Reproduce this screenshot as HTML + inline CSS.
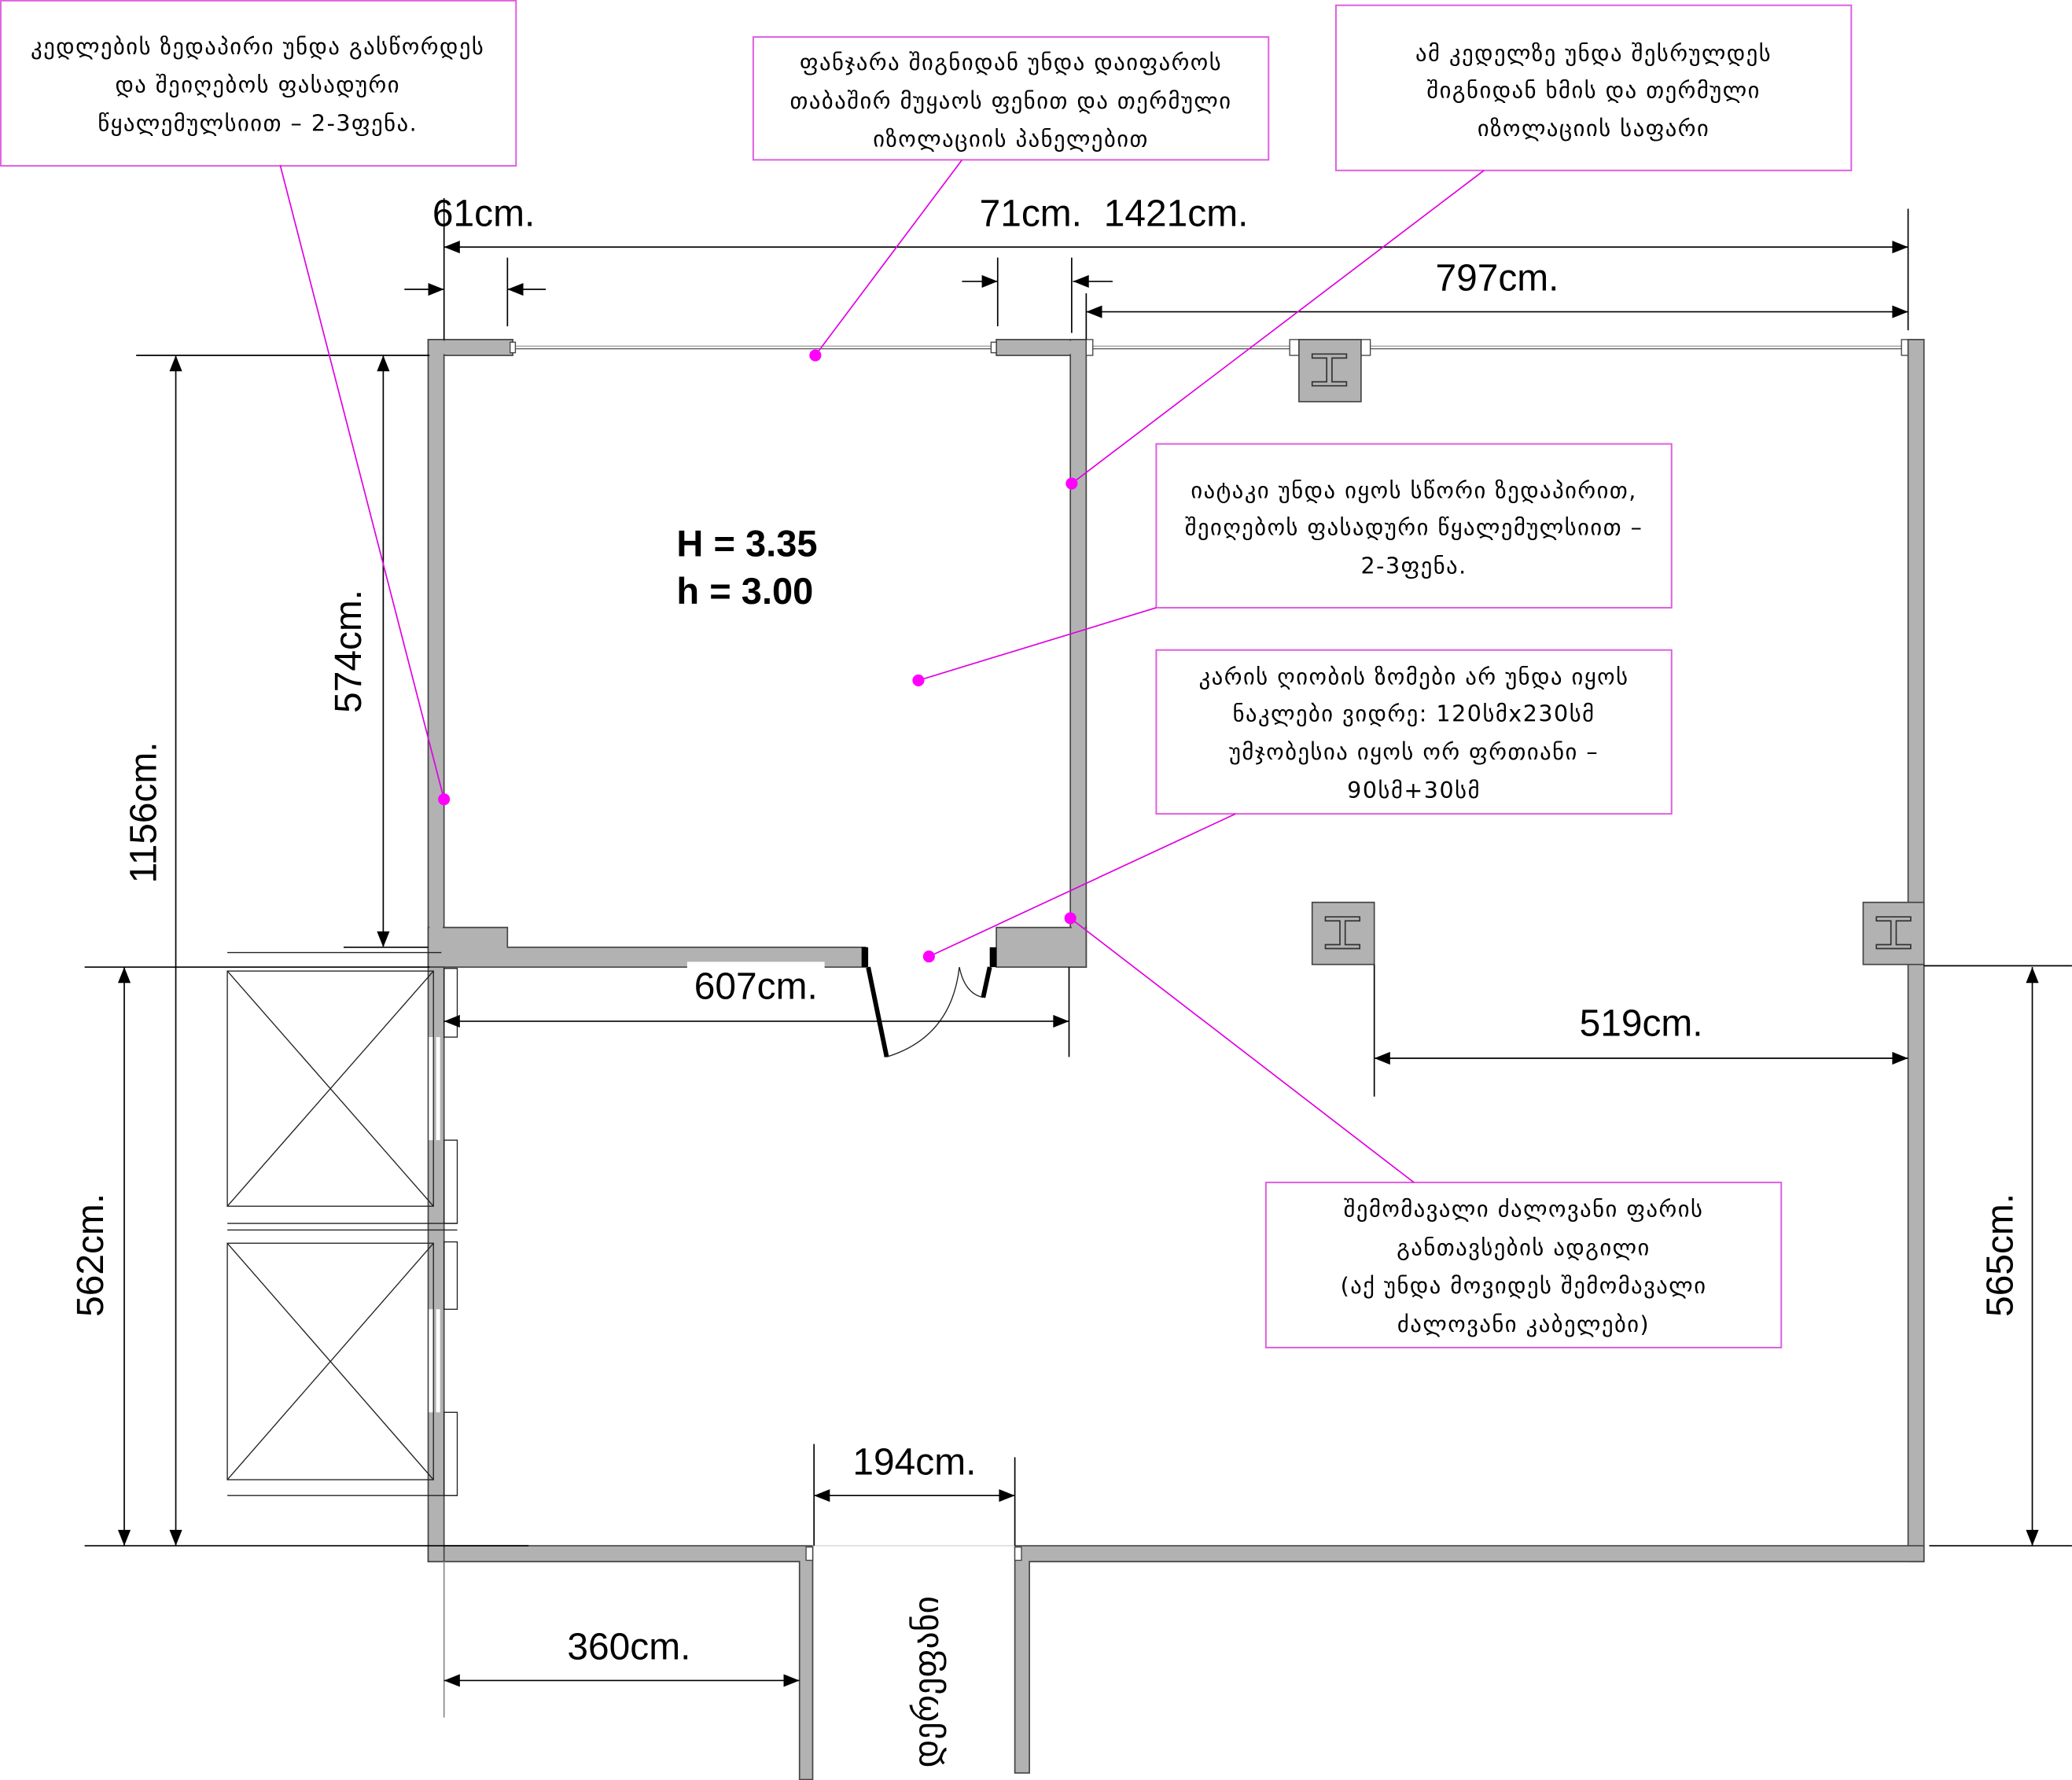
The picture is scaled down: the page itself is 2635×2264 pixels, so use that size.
<!DOCTYPE html>
<html><head><meta charset="utf-8"><style>
html,body{margin:0;padding:0;background:#fff;}
svg{display:block;}
.g{font-family:"DejaVu Sans","Liberation Sans",sans-serif;font-size:17px;letter-spacing:0.9px;fill:#000;text-anchor:middle;}
.d{font-family:"Liberation Sans",sans-serif;font-size:28.5px;fill:#000;text-anchor:middle;}
.w{fill:#b2b2b2;stroke:#444;stroke-width:1;}
.m{stroke:#e000e0;stroke-width:1;fill:none;}
.b{fill:none;stroke:#e060e0;stroke-width:1.2;}
.l{stroke:#000;stroke-width:1;fill:none;}
.x{stroke:#222;stroke-width:0.8;fill:none;}
</style></head><body>
<svg width="2635" height="2264" viewBox="0 0 1568 1347.3" xmlns="http://www.w3.org/2000/svg">
<defs>
<marker id="a" viewBox="0 0 10 10" refX="10" refY="5" markerWidth="14" markerHeight="12" markerUnits="userSpaceOnUse" orient="auto-start-reverse"><path d="M0,1 L10,5 L0,9 z" fill="#000"/></marker>
</defs>
<rect width="1568" height="1348" fill="#fff"/>

<rect class="w" x="324" y="257" width="64" height="12"/>
<rect class="w" x="754" y="257" width="68" height="12"/>
<rect class="w" x="324" y="257" width="12" height="475"/>
<rect class="w" x="810" y="257" width="12" height="475"/>
<polygon class="w" points="336,702 384,702 384,717 655,717 655,732 324,732 324,702"/>
<rect class="w" x="754" y="702" width="68" height="30"/>
<rect x="325" y="258" width="10" height="473" fill="#b2b2b2"/>
<rect x="811" y="258" width="10" height="473" fill="#b2b2b2"/>
<rect x="325" y="258" width="62" height="10" fill="#b2b2b2"/>
<rect x="755" y="258" width="66" height="10" fill="#b2b2b2"/>
<rect x="325" y="703" width="58" height="28" fill="#b2b2b2"/>
<rect x="755" y="703" width="66" height="28" fill="#b2b2b2"/>
<rect x="652" y="717" width="5" height="15" fill="#000"/>
<rect x="749" y="717" width="5" height="15" fill="#000"/>
<line x1="657" y1="732" x2="671" y2="800" stroke="#000" stroke-width="3.5"/>
<path d="M671,800 Q720,785 726,732" class="x"/>
<line x1="749" y1="732" x2="744" y2="755" stroke="#000" stroke-width="3.5"/>
<path d="M726,732 Q730,752 744,755" class="x"/>

<line x1="388" y1="262" x2="754" y2="262" stroke="#999" stroke-width="0.8"/>
<line x1="388" y1="264" x2="754" y2="264" stroke="#555" stroke-width="0.8"/>
<rect x="386" y="259" width="4" height="8" fill="#fff" stroke="#444" stroke-width="0.8"/>
<rect x="750" y="259" width="4" height="8" fill="#fff" stroke="#444" stroke-width="0.8"/>
<line x1="822" y1="262" x2="1441" y2="262" stroke="#999" stroke-width="0.8"/>
<line x1="822" y1="264" x2="1441" y2="264" stroke="#555" stroke-width="0.8"/>
<rect x="822" y="257" width="5" height="12" fill="#fff" stroke="#444" stroke-width="0.8"/>
<rect x="1439" y="257" width="5" height="12" fill="#fff" stroke="#444" stroke-width="0.8"/>
<rect x="976" y="257" width="7" height="12" fill="#fff" stroke="#444" stroke-width="0.8"/>
<rect x="1030" y="257" width="7" height="12" fill="#fff" stroke="#444" stroke-width="0.8"/>

<g>
<rect class="w" x="983" y="257" width="47" height="47"/>
<path d="M993,268 h26 v3 h-11 v18 h11 v3 h-26 v-3 h11 v-18 h-11 z" fill="#b2b2b2" stroke="#333" stroke-width="1"/>
</g>
<g>
<rect class="w" x="993" y="683" width="47" height="47"/>
<path d="M1003,694 h26 v3 h-11 v18 h11 v3 h-26 v-3 h11 v-18 h-11 z" fill="#b2b2b2" stroke="#333" stroke-width="1"/>
</g>
<rect class="w" x="1444" y="257" width="12" height="925"/>
<g>
<rect class="w" x="1410" y="683" width="46" height="47"/>
<path d="M1420,694 h26 v3 h-11 v18 h11 v3 h-26 v-3 h11 v-18 h-11 z" fill="#b2b2b2" stroke="#333" stroke-width="1"/>
</g>
<polygon class="w" points="324,1170 615,1170 615,1347 605,1347 605,1182 324,1182"/>
<polygon class="w" points="768,1170 1456,1170 1456,1182 779,1182 779,1342 768,1342"/>
<rect x="610" y="1171" width="5" height="10" fill="#fff" stroke="#444" stroke-width="0.8"/>
<rect x="768" y="1171" width="5" height="10" fill="#fff" stroke="#444" stroke-width="0.8"/>
<line x1="615" y1="1170" x2="768" y2="1170" stroke="#ddd" stroke-width="1"/>

<rect class="w" x="324" y="732" width="12" height="450" fill="#b2b2b2"/>
<rect x="324.5" y="785" width="4" height="78" fill="#fff"/>
<rect x="324.5" y="991" width="4" height="78" fill="#fff"/>
<rect x="330" y="785" width="3" height="78" fill="#fff"/>
<rect x="330" y="991" width="3" height="78" fill="#fff"/>
<rect x="336" y="733" width="10" height="52" class="x"/>
<rect x="336" y="863" width="10" height="63" class="x"/>
<rect x="336" y="940" width="10" height="51" class="x"/>
<rect x="336" y="1069" width="10" height="63" class="x"/>
<rect x="172" y="735" width="156" height="178" class="x"/>
<line x1="172" y1="735" x2="328" y2="913" class="x"/><line x1="328" y1="735" x2="172" y2="913" class="x"/>
<rect x="172" y="941" width="156" height="179" class="x"/>
<line x1="172" y1="941" x2="328" y2="1120" class="x"/><line x1="328" y1="941" x2="172" y2="1120" class="x"/>
<line x1="172" y1="926" x2="346" y2="926" class="x"/><line x1="172" y1="931" x2="346" y2="931" class="x"/>
<line x1="172" y1="1132" x2="346" y2="1132" class="x"/>
<line x1="172" y1="721" x2="334" y2="721" class="x"/>

<g class="l">
<line x1="336" y1="150" x2="336" y2="257"/>
<line x1="1444" y1="158" x2="1444" y2="250"/>
<line x1="336" y1="187" x2="1444" y2="187" marker-start="url(#a)" marker-end="url(#a)"/>
<line x1="306" y1="219" x2="336" y2="219" marker-end="url(#a)"/>
<line x1="413" y1="219" x2="384" y2="219" marker-end="url(#a)"/>
<line x1="384" y1="195" x2="384" y2="247"/>
<line x1="755" y1="195" x2="755" y2="247"/>
<line x1="811" y1="195" x2="811" y2="252"/>
<line x1="728" y1="213" x2="755" y2="213" marker-end="url(#a)"/>
<line x1="842" y1="213" x2="812" y2="213" marker-end="url(#a)"/>
<line x1="822" y1="222" x2="822" y2="257"/>
<line x1="822" y1="236" x2="1444" y2="236" marker-start="url(#a)" marker-end="url(#a)"/>
<line x1="103" y1="269" x2="325" y2="269"/>
<line x1="133" y1="269" x2="133" y2="1170" marker-start="url(#a)" marker-end="url(#a)"/>
<line x1="290" y1="269" x2="290" y2="717" marker-start="url(#a)" marker-end="url(#a)"/>
<line x1="260" y1="717" x2="324" y2="717"/>
<line x1="64" y1="732" x2="325" y2="732"/>
<line x1="64" y1="1170" x2="400" y2="1170"/>
<line x1="94" y1="732" x2="94" y2="1170" marker-start="url(#a)" marker-end="url(#a)"/>
<line x1="336" y1="773" x2="809" y2="773" marker-start="url(#a)" marker-end="url(#a)"/>
<line x1="809" y1="732" x2="809" y2="800"/>
<line x1="1040" y1="730" x2="1040" y2="830"/>
<line x1="1040" y1="801" x2="1444" y2="801" marker-start="url(#a)" marker-end="url(#a)"/>
<line x1="1456" y1="731" x2="1568" y2="731"/>
<line x1="1460" y1="1170" x2="1568" y2="1170"/>
<line x1="1538" y1="732" x2="1538" y2="1170" marker-start="url(#a)" marker-end="url(#a)"/>
<line x1="616" y1="1093" x2="616" y2="1170"/>
<line x1="768" y1="1103" x2="768" y2="1170"/>
<line x1="616" y1="1132" x2="768" y2="1132" marker-start="url(#a)" marker-end="url(#a)"/>
<line x1="336" y1="1182" x2="336" y2="1300" stroke="#888"/>
<line x1="336" y1="1272" x2="605" y2="1272" marker-start="url(#a)" marker-end="url(#a)"/>
</g>
<rect x="520" y="728" width="104" height="5" fill="#fff"/>
<text class="d" x="366" y="171">61cm.</text>
<text class="d" x="780" y="171">71cm.</text>
<text class="d" x="890" y="171">1421cm.</text>
<text class="d" x="1133" y="220">797cm.</text>
<text class="d" x="572" y="756">607cm.</text>
<text class="d" x="1242" y="784">519cm.</text>
<text class="d" x="692" y="1116">194cm.</text>
<text class="d" x="476" y="1256">360cm.</text>
<text class="d" transform="translate(118,615) rotate(-90)">1156cm.</text>
<text class="d" transform="translate(273,493) rotate(-90)">574cm.</text>
<text class="d" transform="translate(78,950) rotate(-90)">562cm.</text>
<text class="d" transform="translate(1523,950) rotate(-90)">565cm.</text>
<text transform="translate(710,1273) rotate(-90)" style="font-family:'DejaVu Sans',sans-serif;font-size:26px;text-anchor:middle">დერეფანი</text>

<text x="512" y="421" style="font-family:'Liberation Sans',sans-serif;font-weight:bold;font-size:28px">H = 3.35</text>
<text x="512" y="457" style="font-family:'Liberation Sans',sans-serif;font-weight:bold;font-size:28px">h = 3.00</text>

<rect class="b" x="0.5" y="0.5" width="390" height="125"/>
<text class="g" x="195" y="41">კედლების ზედაპირი უნდა გასწორდეს</text>
<text class="g" x="195" y="70">და შეიღებოს ფასადური</text>
<text class="g" x="195" y="99">წყალემულსიით – 2-3ფენა.</text>

<rect class="b" x="570" y="28" width="390" height="93"/>
<text class="g" x="765" y="53">ფანჯარა შიგნიდან უნდა დაიფაროს</text>
<text class="g" x="765" y="82">თაბაშირ მუყაოს ფენით და თერმული</text>
<text class="g" x="765" y="111">იზოლაციის პანელებით</text>

<rect class="b" x="1011" y="4" width="390" height="125"/>
<text class="g" x="1206" y="46">ამ კედელზე უნდა შესრულდეს</text>
<text class="g" x="1206" y="74">შიგნიდან ხმის და თერმული</text>
<text class="g" x="1206" y="103">იზოლაციის საფარი</text>

<rect class="b" x="875" y="336" width="390" height="124"/>
<text class="g" x="1070" y="377">იატაკი უნდა იყოს სწორი ზედაპირით,</text>
<text class="g" x="1070" y="405">შეიღებოს ფასადური წყალემულსიით –</text>
<text class="g" x="1070" y="434">2-3ფენა.</text>

<rect class="b" x="875" y="492" width="390" height="124"/>
<text class="g" x="1070" y="518">კარის ღიობის ზომები არ უნდა იყოს</text>
<text class="g" x="1070" y="546">ნაკლები ვიდრე: 120სმx230სმ</text>
<text class="g" x="1070" y="575">უმჯობესია იყოს ორ ფრთიანი –</text>
<text class="g" x="1070" y="604">90სმ+30სმ</text>

<rect class="b" x="958" y="895" width="390" height="125"/>
<text class="g" x="1153" y="921">შემომავალი ძალოვანი ფარის</text>
<text class="g" x="1153" y="950">განთავსების ადგილი</text>
<text class="g" x="1153" y="979">(აქ უნდა მოვიდეს შემომავალი</text>
<text class="g" x="1153" y="1008">ძალოვანი კაბელები)</text>

<g class="m">
<line x1="212" y1="125" x2="336" y2="605"/>
<line x1="728" y1="121" x2="617" y2="269"/>
<line x1="1123" y1="129" x2="811" y2="366"/>
<line x1="875" y1="460" x2="695" y2="515"/>
<line x1="935" y1="616" x2="703" y2="724"/>
<line x1="1070" y1="895" x2="810" y2="695"/>
</g>
<g fill="#ff00ff">
<circle cx="336" cy="605" r="4.5"/>
<circle cx="617" cy="269" r="4.5"/>
<circle cx="811" cy="366" r="4.5"/>
<circle cx="695" cy="515" r="4.5"/>
<circle cx="703" cy="724" r="4.5"/>
<circle cx="810" cy="695" r="4.5"/>
</g>
</svg>
</body></html>
